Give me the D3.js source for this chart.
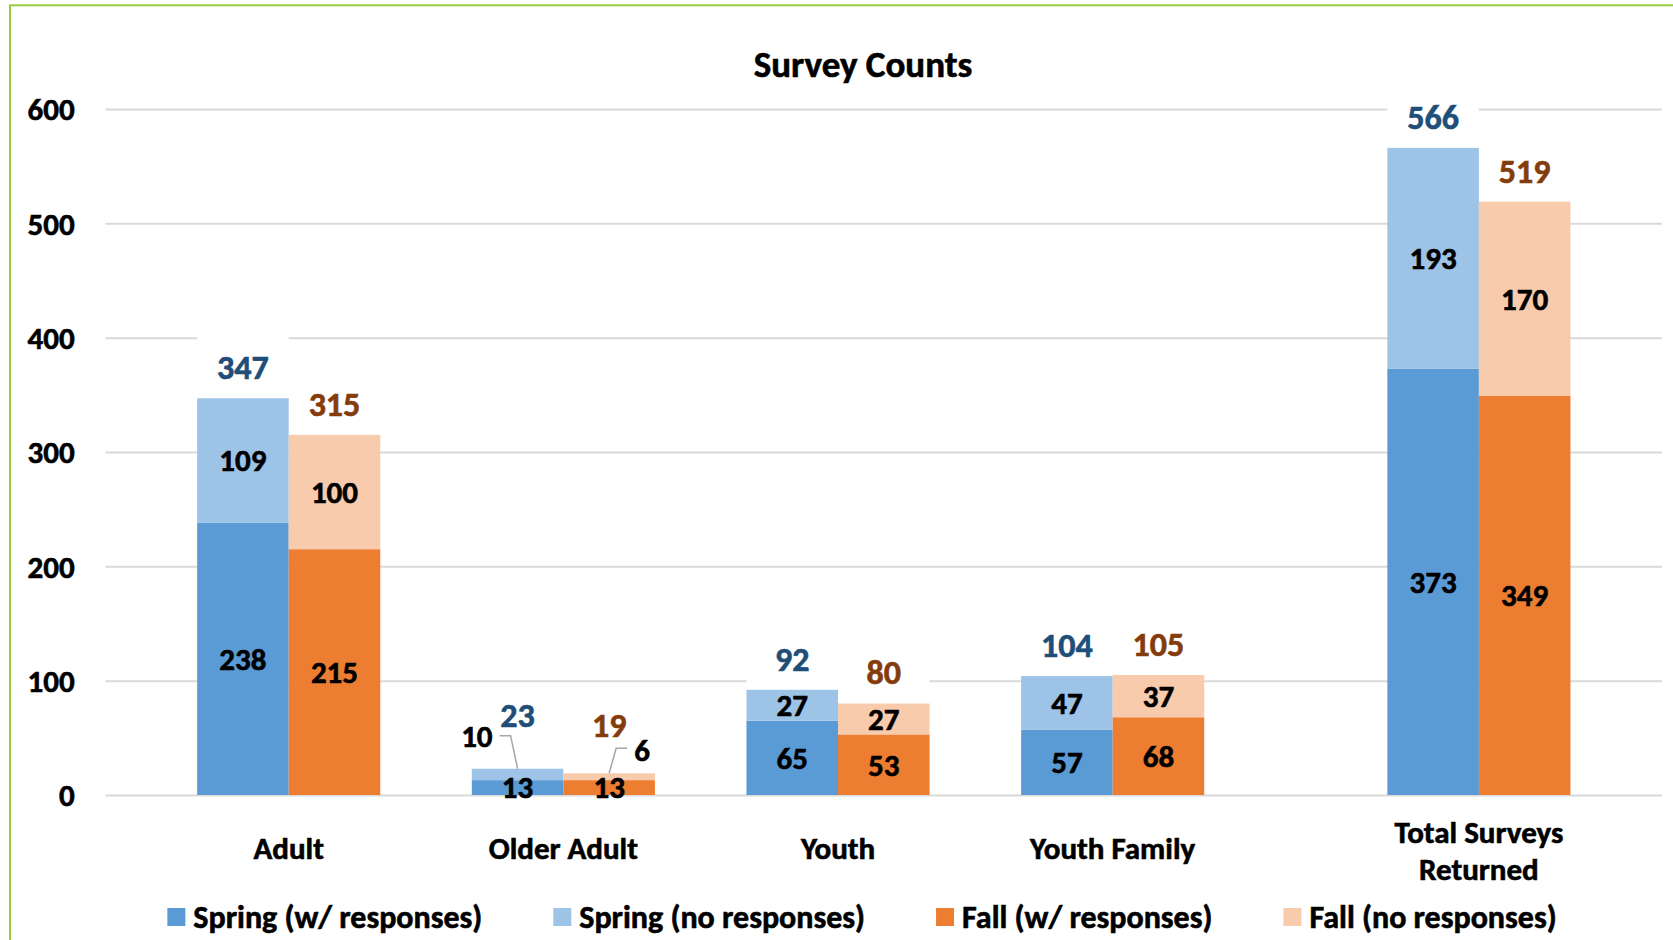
<!DOCTYPE html>
<html>
<head>
<meta charset="utf-8">
<script src="https://cdn.jsdelivr.net/npm/d3@7"></script>
<style>
  body { margin: 0; background: #fff; }
  text { font-family: Carlito, Calibri, Lato, sans-serif; font-weight: bold; }
</style>
</head>
<body>
<div id="grafico"></div>
<script>
// valores
const categories = ["Adult", "Older Adult", "Youth", "Youth Family", "Total Surveys Returned"]
const springWith = [238, 13, 65, 57, 373]
const springNo = [109, 10, 27, 47, 193]
const fallWith = [215, 13, 53, 68, 349]
const fallNo = [100, 6, 27, 37, 170]
const yTicks = [0, 100, 200, 300, 400, 500, 600]
const seriesNames = ["Spring (w/ responses)", "Spring (no responses)", "Fall (w/ responses)", "Fall (no responses)"]
const colors = ["#5B9BD5", "#9DC3E6", "#ED7D31", "#F8CBAD"]
const totalColors = ["#1F4E79", "#843C0C"]

const W = 1673, H = 940
const fs = 31

const svg = d3.select("#grafico")
  .append("svg")
    .attr("width", W)
    .attr("height", H)

// borda verde
svg.append("rect")
  .attr("x", 10).attr("y", 5.3)
  .attr("width", W + 20).attr("height", H + 20)
  .attr("fill", "#fff")
  .attr("stroke", "#9BCB3C")
  .attr("stroke-width", 2)

// eixo x em "unidades" de largura de barra (grupo total fica um pouco afastado)
const x = d3.scaleLinear().domain([0, 17]).range([105.6, 1662])
const groupStart = i => 1 + 3 * i + (i === categories.length - 1 ? 1 : 0)

const y = d3.scaleLinear().domain([0, 600]).range([795, 109])

// titulo
svg.append("text")
  .attr("x", 863).attr("y", 77)
  .attr("text-anchor", "middle")
  .attr("font-size", 37)
  .text("Survey Counts")

// grade + eixo y
const yAxis = svg.append("g")
  .attr("transform", `translate(${x(0)},0)`)
  .call(d3.axisLeft(y).tickValues(yTicks).tickSize(-(x(17) - x(0))).tickPadding(31))
yAxis.select(".domain").remove()
yAxis.selectAll(".tick line").attr("stroke", "#D9D9D9").attr("stroke-width", 2)
yAxis.selectAll(".tick text")
  .attr("font-size", fs)
  .attr("font-family", null)
  .attr("fill", "#000")
  .attr("dy", "0.35em")

// pilhas
const stacks = categories.map((c, i) => {
  const s = groupStart(i)
  return [
    {cat: c, x0: s, parts: [springWith[i], springNo[i]], cols: [colors[0], colors[1]], side: 0},
    {cat: c, x0: s + 1, parts: [fallWith[i], fallNo[i]], cols: [colors[2], colors[3]], side: 1}
  ]
}).flat()

const boxes = svg.append("g")
const bars = svg.append("g")
const texts = svg.append("g")

stacks.forEach(st => {
  let base = 0
  st.parts.forEach((v, k) => {
    bars.append("rect")
      .attr("x", x(st.x0))
      .attr("y", y(base + v))
      .attr("width", x(st.x0 + 1) - x(st.x0))
      .attr("height", y(base) - y(base + v))
      .attr("fill", st.cols[k])
    st["b" + k] = base
    base += v
  })
  st.total = base
})

// rotulos
stacks.forEach(st => {
  const cx = (x(st.x0) + x(st.x0 + 1)) / 2
  const bw = x(st.x0 + 1) - x(st.x0)
  const top = y(st.total)
  let small = false
  st.parts.forEach((v, k) => {
    const b = st["b" + k]
    const h = y(b) - y(b + v)
    if (k === 1 && h < 20) {
      small = true
      // rotulo fora com linha guia
      const dir = st.side === 0 ? -1 : 1
      const ey = st.side === 0 ? top - 33 : top - 25
      texts.append("path")
        .attr("d", `M${cx},${top} L${cx + dir * 7},${ey} L${cx + dir * 18},${ey}`)
        .attr("fill", "none")
        .attr("stroke", "#A6A6A6")
        .attr("stroke-width", 1.5)
      texts.append("text")
        .attr("x", cx + dir * 25)
        .attr("y", ey + (st.side === 0 ? 0 : 2))
        .attr("dy", "0.35em")
        .attr("text-anchor", st.side === 0 ? "end" : "start")
        .attr("font-size", fs)
        .text(v)
    } else {
      texts.append("text")
        .attr("x", cx)
        .attr("y", (y(b) + y(b + v)) / 2)
        .attr("dy", "0.35em")
        .attr("text-anchor", "middle")
        .attr("font-size", fs)
        .text(v)
    }
  })
  const ly = top - (small ? (st.side === 0 ? 54 : 48) : 31)
  // caixa branca do rotulo de total (esconde a grade)
  const bt = small ? 26 : 34
  boxes.append("rect")
    .attr("x", cx - bw / 2).attr("y", ly - bt)
    .attr("width", bw).attr("height", bt + 27)
    .attr("fill", "#fff")
  texts.append("text")
    .attr("x", cx)
    .attr("y", ly)
    .attr("dy", "0.35em")
    .attr("text-anchor", "middle")
    .attr("font-size", 34)
    .attr("fill", totalColors[st.side])
    .text(st.total)
})

// rotulos do eixo x
categories.forEach((c, i) => {
  const cx = x(groupStart(i) + 1)
  const t = svg.append("text")
    .attr("x", cx)
    .attr("text-anchor", "middle")
    .attr("font-size", fs)
  if (c === "Total Surveys Returned") {
    t.attr("y", 832).attr("dy", "0.35em")
    t.append("tspan").attr("x", cx).text("Total Surveys")
    t.append("tspan").attr("x", cx).attr("dy", "1.2em").text("Returned")
  } else {
    t.attr("y", 848).attr("dy", "0.35em").text(c)
  }
})

// legenda
const legend = svg.append("g")
let lx = 0
seriesNames.forEach((n, i) => {
  const g = legend.append("g").attr("transform", `translate(${lx},0)`)
  g.append("rect").attr("x", 0).attr("y", -9).attr("width", 18).attr("height", 18).attr("fill", colors[i])
  const t = g.append("text").attr("x", 26).attr("y", 0).attr("dy", "0.35em").attr("font-size", 32).text(n)
  lx += 26 + t.node().getComputedTextLength() + 71
})
lx -= 71
legend.attr("transform", `translate(${862 - lx / 2},917)`)

// deixa o texto um pouco mais pesado, parecido com o original
svg.selectAll("text")
  .attr("stroke", function () { return d3.select(this).attr("fill") || "#000" })
  .attr("stroke-width", 0.6)
</script>
</body>
</html>
